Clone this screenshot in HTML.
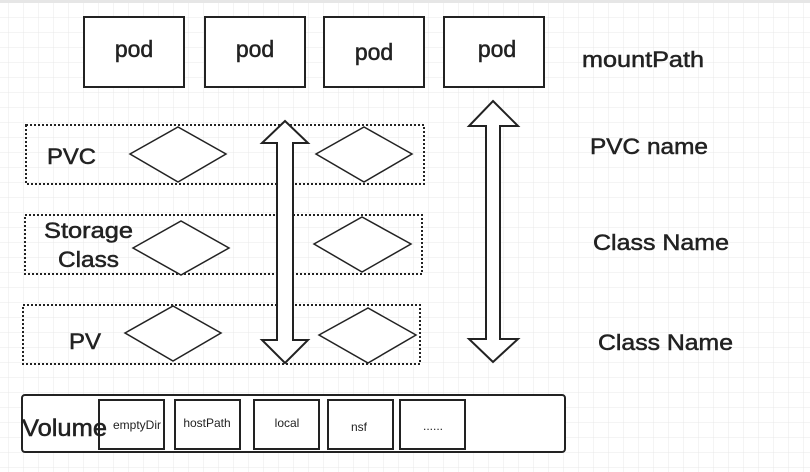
<!DOCTYPE html>
<html><head><meta charset="utf-8"><style>
html,body{margin:0;padding:0;background:#fff;}
svg{display:block;}
text{font-family:"Liberation Sans",Arial,sans-serif;fill:#222;}
.m{stroke:#222;stroke-width:0.5;}
</style></head><body>
<svg width="810" height="472" viewBox="0 0 810 472" xmlns="http://www.w3.org/2000/svg">
<defs>
<pattern id="g" x="8" y="2" width="15" height="15" patternUnits="userSpaceOnUse">
<path d="M0 0H15M0 0V15" stroke="#e8e8e8" stroke-width="1" fill="none"/>
</pattern>
</defs>
<rect width="810" height="472" fill="#fff"/>
<rect width="810" height="472" fill="url(#g)"/>
<rect x="0" y="0" width="810" height="3" fill="#e6e6e6"/>
<g fill="#fff" stroke="#222" stroke-width="2">
<rect x="84" y="17" width="100" height="70"/>
<rect x="205" y="17" width="100" height="70"/>
<rect x="324" y="17" width="100" height="70"/>
<rect x="444" y="17" width="100" height="70"/>
</g>
<g font-size="23" class="m" text-anchor="middle">
<text x="134" y="57">pod</text>
<text x="255" y="57">pod</text>
<text x="374" y="60">pod</text>
<text x="497" y="57">pod</text>
</g>
<g fill="none" stroke="#222" stroke-width="2" stroke-dasharray="2,2">
<rect x="26" y="125" width="398" height="59"/>
<rect x="25" y="215" width="397" height="59"/>
<rect x="23" y="305" width="397" height="59"/>
</g>
<g fill="#fff" stroke="#222" stroke-width="1.5">
<polygon points="130,154 178,127 226,154 178,182"/>
<polygon points="316,154 364,127 412,154 364,182"/>
<polygon points="133,248 181,221 229,248 181,275"/>
<polygon points="314,244 362,217 411,244 362,272"/>
<polygon points="125,333 173,306 221,333 173,361"/>
<polygon points="319,335 368,308 416,335 368,363"/>
</g>
<g fill="#fff" stroke="#222" stroke-width="2">
<polygon points="285,121 308,143 293,143 293,340 308,340 285,363 262,340 277,340 277,143 262,143"/>
<polygon points="493,101 518,126 500,126 500,339 518,339 493,362 469,339 486,339 486,126 469,126"/>
</g>
<g font-size="22" class="m">
<text x="47" y="164" textLength="49" lengthAdjust="spacingAndGlyphs">PVC</text>
<text x="44" y="238" textLength="89" lengthAdjust="spacingAndGlyphs">Storage</text>
<text x="58" y="267" textLength="61" lengthAdjust="spacingAndGlyphs">Class</text>
<text x="69" y="349" textLength="32" lengthAdjust="spacingAndGlyphs">PV</text>
<text x="582" y="67" textLength="122" lengthAdjust="spacingAndGlyphs">mountPath</text>
<text x="590" y="154" textLength="118" lengthAdjust="spacingAndGlyphs">PVC name</text>
<text x="593" y="250" textLength="136" lengthAdjust="spacingAndGlyphs">Class Name</text>
<text x="598" y="350" textLength="135" lengthAdjust="spacingAndGlyphs">Class Name</text>
</g>
<rect x="22" y="395" width="543" height="57" rx="3" fill="#fff" stroke="#222" stroke-width="2"/>
<g fill="#fff" stroke="#222" stroke-width="2">
<rect x="99" y="400" width="65" height="49"/>
<rect x="175" y="400" width="65" height="49"/>
<rect x="254" y="400" width="65" height="49"/>
<rect x="328" y="400" width="65" height="49"/>
<rect x="400" y="400" width="65" height="49"/>
</g>
<text x="22" y="436" font-size="24" class="m" textLength="85" lengthAdjust="spacingAndGlyphs">Volume</text>
<g font-size="12" text-anchor="middle">
<text x="137" y="429">emptyDir</text>
<text x="207" y="427">hostPath</text>
<text x="287" y="427">local</text>
<text x="359" y="431">nsf</text>
<text x="433" y="430">......</text>
</g>
</svg>
</body></html>
